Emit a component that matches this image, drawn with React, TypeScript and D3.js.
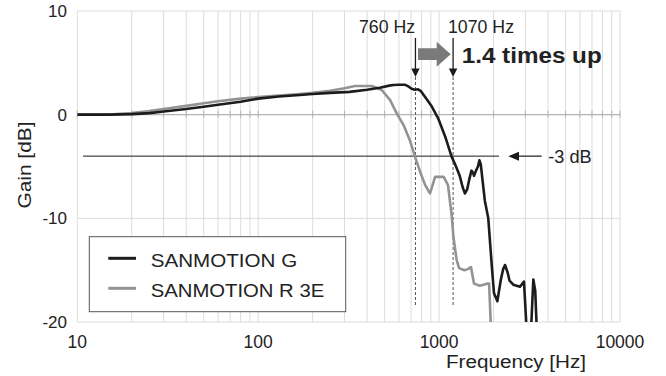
import React from "react";
import * as d3 from "d3";

// ---- data ----
const freqG = [10, 15, 20, 25, 30, 40, 50, 60, 80, 100, 130, 170, 200, 250, 320, 400, 470, 530, 560, 600, 650, 680, 705, 735, 765, 790, 837, 910, 988, 1080, 1170, 1240, 1300, 1350, 1390, 1430, 1470, 1510, 1540, 1560, 1600, 1640, 1670, 1700, 1730, 1790, 1870, 1954, 2010, 2099, 2190, 2260, 2314, 2390, 2450, 2571, 2800, 2946, 3074, 3200, 3318, 3400, 3490];
const gainG = [0, 0, 0.05, 0.15, 0.3, 0.55, 0.77, 0.95, 1.25, 1.55, 1.75, 1.9, 2.0, 2.1, 2.2, 2.4, 2.6, 2.8, 2.86, 2.88, 2.88, 2.7, 2.5, 2.4, 2.45, 2.3, 1.7, 0.8, -0.35, -2.1, -4.0, -5.0, -5.9, -7.0, -7.6, -7.2, -6.2, -5.4, -5.6, -5.9, -5.4, -5.0, -4.4, -4.8, -6.0, -8.3, -10.0, -14.5, -17.2, -18.0, -16.0, -14.9, -14.5, -15.2, -16.0, -16.4, -16.6, -16.1, -22, -22, -15.9, -17, -22];

const freqR = [10, 15, 20, 25, 30, 40, 50, 60, 80, 100, 130, 170, 200, 250, 300, 343, 424, 450, 482, 535, 583, 636, 688, 736, 785, 838, 890, 928, 950, 1060, 1120, 1175, 1200, 1250, 1290, 1380, 1440, 1500, 1560, 1680, 1840, 1890, 1950];
const gainR = [0, 0, 0.15, 0.35, 0.55, 0.85, 1.1, 1.3, 1.55, 1.7, 1.85, 2.0, 2.1, 2.3, 2.55, 2.77, 2.77, 2.6, 2.38, 1.42, 0.13, -1.0, -2.44, -4.05, -5.5, -6.8, -7.6, -6.6, -6.0, -6.0, -6.8, -9.8, -11.8, -14.0, -14.8, -15.0, -14.9, -14.7, -16.3, -16.5, -16.3, -16.3, -22];

const seriesNames = ["SANMOTION G", "SANMOTION R 3E"];
const seriesColors = ["#1c1c1c", "#939393"];

const yTicks = [10, 0, -10, -20];
const xTicks = [10, 100, 1000, 10000];
const refLevel = -4; // drawn "-3 dB" reference line as placed in picture
const markerFreqs = [740, 1195];
const markerLabels = ["760 Hz", "1070 Hz"];

export default function App() {
  const W = 666, H = 376;
  const x = d3.scaleLog().domain([10, 10000]).range([77.3, 620]);
  const y = d3.scaleLinear().domain([-20, 10]).range([322, 11]);

  const gridX: number[] = [];
  [10, 100, 1000].forEach((dec) => {
    for (let k = 1; k <= 9; k++) gridX.push(dec * k);
  });
  gridX.push(10000);

  const line = d3
    .line<[number, number]>()
    .x((d) => x(d[0]))
    .y((d) => y(d[1]));

  const dG = line(freqG.map((f, i) => [f, gainG[i]] as [number, number])) || "";
  const dR = line(freqR.map((f, i) => [f, gainR[i]] as [number, number])) || "";

  const font = "'Liberation Sans', Arial, sans-serif";
  const txt = "#222";
  const y0 = y(0);
  const yRef = y(refLevel);

  return (
    <svg width={W} height={H} style={{ position: "absolute", left: 0, top: 0, background: "#fff" }} fontFamily={font}>
      <defs>
        <clipPath id="plot">
          <rect x={x(10)} y={y(10)} width={x(10000) - x(10)} height={y(-20) - y(10)} />
        </clipPath>
      </defs>
      <rect width={W} height={H} fill="#fff" />
      {/* grid */}
      {gridX.map((f) => (
        <line key={"gx" + f} x1={x(f)} x2={x(f)} y1={y(10)} y2={y(-20)} stroke="#dcdcdc" strokeWidth={1} />
      ))}
      {yTicks.map((t) => (
        <line key={"gy" + t} x1={x(10)} x2={x(10000)} y1={y(t)} y2={y(t)} stroke={t === 0 ? "#b4b4b4" : "#dcdcdc"} strokeWidth={t === 0 ? 1.3 : 1} />
      ))}
      {gridX.map((f) => (
        <line key={"tk" + f} x1={x(f)} x2={x(f)} y1={y0 - 4} y2={y0 + 3} stroke="#b4b4b4" strokeWidth={1} />
      ))}
      {/* axis labels */}
      {yTicks.map((t) => (
        <text key={"yl" + t} x={67} y={y(t)} dy="0.36em" textAnchor="end" fontSize={17} fill={txt}>
          {t}
        </text>
      ))}
      {xTicks.map((t) => (
        <text key={"xl" + t} x={x(t)} y={347.5} textAnchor="middle" fontSize={17.5} fill={txt}>
          {t}
        </text>
      ))}
      <text x={446} y={367.5} fontSize={18} fill={txt} textLength={140} lengthAdjust="spacingAndGlyphs">
        Frequency [Hz]
      </text>
      <text transform="translate(31,165) rotate(-90)" textAnchor="middle" fontSize={18} fill={txt} textLength={87} lengthAdjust="spacingAndGlyphs">
        Gain [dB]
      </text>

      {/* reference line */}
      <line x1={83} x2={499} y1={yRef} y2={yRef} stroke="#1a1a1a" strokeWidth={1} />
      <line x1={541.7} x2={516} y1={yRef} y2={yRef} stroke="#1a1a1a" strokeWidth={1.2} />
      <path d={`M${508.3},${yRef} L${519},${yRef - 4.5} L${519},${yRef + 4.5} Z`} fill="#1a1a1a" />
      <text x={548.3} y={163} fontSize={18} fill={txt} textLength={43.4} lengthAdjust="spacingAndGlyphs">
        -3 dB
      </text>

      {/* marker dashed lines */}
      {markerFreqs.map((f) => (
        <line key={"dl" + f} x1={x(f)} x2={x(f)} y1={77} y2={307} stroke="#555" strokeWidth={1} strokeDasharray="3,2" />
      ))}

      {/* curves */}
      <g clipPath="url(#plot)">
        <path d={dR} fill="none" stroke={seriesColors[1]} strokeWidth={2.6} strokeLinejoin="round" />
        <path d={dG} fill="none" stroke={seriesColors[0]} strokeWidth={2.6} strokeLinejoin="round" />
      </g>

      {/* marker arrows and labels */}
      {markerFreqs.map((f, i) => {
        const mx = x(f);
        return (
          <g key={"ma" + f}>
            <line x1={mx} x2={mx} y1={38} y2={70} stroke="#1a1a1a" strokeWidth={1.3} />
            <path d={`M${mx},77 L${mx - 4.2},68.5 L${mx + 4.2},68.5 Z`} fill="#1a1a1a" />
            <text
              x={i === 0 ? 415 : 448}
              y={33}
              textAnchor={i === 0 ? "end" : "start"}
              fontSize={17.5}
              fill={txt}
              textLength={i === 0 ? 56 : 66}
              lengthAdjust="spacingAndGlyphs"
            >
              {markerLabels[i]}
            </text>
          </g>
        );
      })}
      {/* big gray arrow */}
      <path d="M418,48.3 L436.7,48.3 L436.7,41.7 L450.7,54.2 L436.7,66.7 L436.7,60 L418,60 Z" fill="#7a7a7a" />
      <text x={461.7} y={62.7} fontSize={22} fontWeight="bold" fill="#222" textLength={140} lengthAdjust="spacingAndGlyphs">
        1.4 times up
      </text>

      {/* legend */}
      <rect x={89.3} y={236.7} width={256.4} height={75} fill="#fff" stroke="#555" strokeWidth={1} />
      {seriesNames.map((n, i) => {
        const ly = 258.3 + i * 30;
        return (
          <g key={n}>
            <line x1={108.3} x2={136} y1={ly} y2={ly} stroke={seriesColors[i]} strokeWidth={3} />
            <text x={150.7} y={ly + 8.5} fontSize={19} fill={txt} textLength={i === 0 ? 146.5 : 173.5} lengthAdjust="spacingAndGlyphs">
              {n}
            </text>
          </g>
        );
      })}
    </svg>
  );
}
